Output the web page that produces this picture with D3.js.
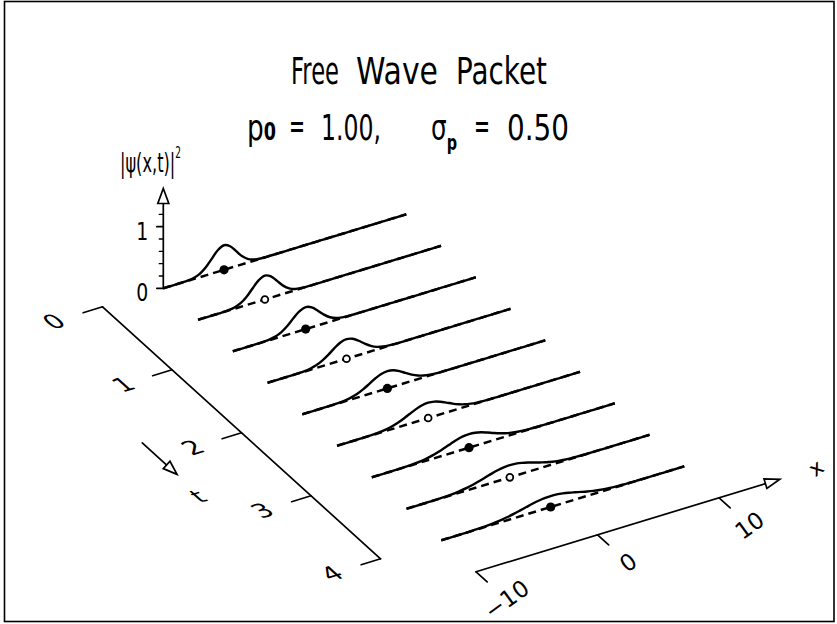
<!DOCTYPE html>
<html>
<head>
<meta charset="utf-8">
<script src="https://cdn.jsdelivr.net/npm/d3@7"></script>
<style>
  body { margin: 0; background: #fff; }
  svg { display: block; }
  text { font-family: "DejaVu Sans", "Liberation Sans", sans-serif; fill: #000; }
</style>
</head>
<body>
<svg id="chart" width="837" height="624"></svg>
<script>
// ---- data -------------------------------------------------------------
const times = [0, 0.5, 1, 1.5, 2, 2.5, 3, 3.5, 4];
// sample positions along x (step 0.5 from -10 to 10)
const xSamples = [-10,-9.5,-9,-8.5,-8,-7.5,-7,-6.5,-6,-5.5,-5,-4.5,-4,-3.5,-3,-2.5,-2,-1.5,-1,-0.5,
                  0,0.5,1,1.5,2,2.5,3,3.5,4,4.5,5,5.5,6,6.5,7,7.5,8,8.5,9,9.5,10];
// |psi(x,t)|^2 at each sample, one array per time slice
const rho_t00 = [0,0,0,0.001,0.004,0.018,0.054,0.130,0.242,0.352,0.399,0.352,0.242,0.130,0.054,0.018,0.004,0.001,
                 0,0,0,0,0,0,0,0,0,0,0,0,0,0,0,0,0,0,0,0,0,0,0];
const rho_t05 = [0,0,0,0,0.001,0.006,0.020,0.059,0.134,0.242,0.344,0.387,0.344,0.242,0.134,0.059,0.020,0.006,0.001,
                 0,0,0,0,0,0,0,0,0,0,0,0,0,0,0,0,0,0,0,0,0,0];
const rho_t10 = [0,0,0,0,0.001,0.003,0.010,0.029,0.072,0.145,0.239,0.323,0.357,0.323,0.239,0.145,0.072,0.029,0.010,0.003,0.001,
                 0,0,0,0,0,0,0,0,0,0,0,0,0,0,0,0,0,0,0,0];
const rho_t15 = [0,0,0,0,0,0.002,0.006,0.018,0.043,0.089,0.155,0.232,0.295,0.319,0.295,0.232,0.155,0.089,0.043,0.018,0.006,0.002,
                 0,0,0,0,0,0,0,0,0,0,0,0,0,0,0,0,0,0,0];
const rho_t20 = [0,0,0,0,0.001,0.002,0.005,0.013,0.030,0.059,0.104,0.161,0.220,0.265,0.282,0.265,0.220,0.161,0.104,0.059,0.030,
                 0.013,0.005,0.002,0.001,0,0,0,0,0,0,0,0,0,0,0,0,0,0,0,0];
const rho_t25 = [0,0,0,0,0.001,0.002,0.005,0.011,0.023,0.043,0.074,0.114,0.161,0.205,0.237,0.249,0.237,0.205,0.161,0.114,0.074,
                 0.043,0.023,0.011,0.005,0.002,0.001,0,0,0,0,0,0,0,0,0,0,0,0,0,0];
const rho_t30 = [0,0,0,0,0.001,0.002,0.005,0.010,0.019,0.034,0.055,0.084,0.119,0.156,0.190,0.213,0.221,0.213,0.190,0.156,0.119,
                 0.084,0.055,0.034,0.019,0.010,0.005,0.002,0.001,0,0,0,0,0,0,0,0,0,0,0,0];
const rho_t35 = [0,0,0,0,0.001,0.002,0.005,0.009,0.016,0.028,0.044,0.065,0.092,0.121,0.150,0.175,0.192,0.198,0.192,0.175,0.150,
                 0.121,0.092,0.065,0.044,0.028,0.016,0.009,0.005,0.002,0.001,0,0,0,0,0,0,0,0,0,0];
const rho_t40 = [0,0,0,0.001,0.001,0.003,0.005,0.009,0.015,0.023,0.036,0.052,0.072,0.095,0.119,0.142,0.161,0.174,0.178,0.174,0.161,
                 0.142,0.119,0.095,0.072,0.052,0.036,0.023,0.015,0.009,0.005,0.003,0.001,0.001,0,0,0,0,0,0,0];
const densities = [rho_t00, rho_t05, rho_t10, rho_t15, rho_t20, rho_t25, rho_t30, rho_t35, rho_t40];
// classical particle position at each time
const classicalX = [-5, -4.5, -4, -3.5, -3, -2.5, -2, -1.5, -1];

const p0 = 1.00, sigmaP = 0.50;
const zMajorTicks = [0, 1];
const zMinorTicks = [0.2, 0.4, 0.6, 0.8, 1.2];
const tTicks = [0, 1, 2, 3, 4];
const xTicks = [-10, 0, 10];

// ---- oblique projection ----------------------------------------------
const svg = d3.select("#chart");
const origin = [163.3, 288.3];                     // screen point of (x=-10, t=0, z=0)
const xAlongX = d3.scaleLinear([-10, 10], [0, 243]);
const xAlongY = d3.scaleLinear([-10, 10], [0, -74]);
const tAlongX = d3.scaleLinear([0, 4], [0, 278]);
const tAlongY = d3.scaleLinear([0, 4], [0, 252]);
const zScale  = d3.scaleLinear([0, 1], [0, -61.6]);
function P(x, t, z = 0) {
  return [origin[0] + xAlongX(x) + tAlongX(t), origin[1] + xAlongY(x) + tAlongY(t) + zScale(z)];
}
function unit(a, b) { const l = Math.hypot(a[0]-b[0], a[1]-b[1]); return [(b[0]-a[0])/l, (b[1]-a[1])/l]; }
const xDir = unit(P(0,0), P(1,0));
const tDir = unit(P(0,0), P(0,1));

const ink = "#000";
const g = svg.append("g");

// frame
g.append("rect").attr("x", 4.5).attr("y", 1.5).attr("width", 829.5).attr("height", 620)
  .attr("fill", "none").attr("stroke", ink).attr("stroke-width", 1.6);

function seg(a, b, w = 1.7) {
  g.append("line").attr("x1", a[0]).attr("y1", a[1]).attr("x2", b[0]).attr("y2", b[1])
    .attr("stroke", ink).attr("stroke-width", w).attr("stroke-linecap", "round");
}
function openHead(tip, dir, len, half) {
  const bx = tip[0] - dir[0]*len, by = tip[1] - dir[1]*len;
  const nx = -dir[1], ny = dir[0];
  g.append("path")
    .attr("d", `M${tip[0]},${tip[1]}L${bx + nx*half},${by + ny*half}L${bx - nx*half},${by - ny*half}Z`)
    .attr("fill", "#fff").attr("stroke", ink).attr("stroke-width", 1.7).attr("stroke-linejoin", "miter");
}
// Text squeezed horizontally to a given advance width (stroke-font proportions).
// parts: [{s: string, size?, weight?, dy?}]
function label(x, y, parts, size, width, anchor = "start") {
  const holder = g.append("g");
  const t = holder.append("text").attr("font-size", size).attr("text-anchor", anchor);
  parts.forEach(p => {
    const sp = t.append("tspan").text(p.s);
    if (p.size) sp.attr("font-size", p.size);
    if (p.weight) sp.attr("font-weight", p.weight);
    if (p.dy) sp.attr("dy", p.dy);
  });
  const natural = t.node().getComputedTextLength() || width;
  holder.attr("transform", `translate(${x},${y}) scale(${width / natural},1)`);
  return holder;
}

// ---- slices -------------------------------------------------------------
const slices = times.map((t, i) => ({ t, i, pts: xSamples.map((x, k) => ({ x, z: densities[i][k] })) }));

// baseline (dashed) underneath each packet
g.selectAll(".base").data(slices).join("line").attr("class", "base")
  .attr("x1", d => P(-10, d.t)[0]).attr("y1", d => P(-10, d.t)[1])
  .attr("x2", d => P(10, d.t)[0]).attr("y2", d => P(10, d.t)[1])
  .attr("stroke", ink).attr("stroke-width", 2.5).attr("stroke-dasharray", "8,5");

// probability density curves
g.selectAll(".curve").data(slices).join("path").attr("class", "curve")
  .attr("d", d => d3.line()
      .x(p => P(p.x, d.t, p.z)[0])
      .y(p => P(p.x, d.t, p.z)[1])
      .curve(d3.curveCatmullRom.alpha(0.5))(d.pts))
  .attr("fill", "none").attr("stroke", ink).attr("stroke-width", 2.4).attr("stroke-linejoin", "round");

// classical particle markers (alternating filled / open)
g.selectAll(".dot").data(slices).join("circle").attr("class", "dot")
  .attr("cx", d => P(classicalX[d.i], d.t)[0])
  .attr("cy", d => P(classicalX[d.i], d.t)[1])
  .attr("r", d => d.i % 2 === 0 ? 4.6 : 3.4)
  .attr("fill", d => d.i % 2 === 0 ? ink : "#fff")
  .attr("stroke", ink).attr("stroke-width", d => d.i % 2 === 0 ? 0 : 1.8);

// ---- z axis ---------------------------------------------------------------
const zTop = 1.62;
seg(P(-10, 0, 0), P(-10, 0, zTop - 0.22));
openHead(P(-10, 0, zTop), [0, -1], 15, 5.5);
zMajorTicks.forEach(z => {
  const p = P(-10, 0, z);
  seg([p[0] - 6.5, p[1]], p);
  label(p[0] - 15, p[1] + 13, [{ s: String(z) }], 25, 12, "end");
});
zMinorTicks.forEach(z => { const p = P(-10, 0, z); seg([p[0] - 4, p[1]], p, 1.4); });

label(120, 172, [{ s: "|\u03C8(x,t)|" }, { s: "2", size: 15, dy: -14 }], 27, 61);

// ---- t axis (lying on the floor at x = -15) ----------------------------
const tAxisX = -15;
seg(P(tAxisX, 0), P(tAxisX, 4));
tTicks.forEach(t => seg(P(tAxisX, t), P(tAxisX - 1.6, t)));
function floorText(x, t, str, size) {
  const p = P(x, t);
  g.append("text")
    .attr("transform", `matrix(${xDir[0]},${xDir[1]},${tDir[0]},${tDir[1]},${p[0]},${p[1]})`)
    .attr("text-anchor", "middle").attr("dominant-baseline", "central")
    .attr("font-size", size).text(str);
}
tTicks.forEach(t => floorText(-19, t, String(t), 25));
// direction arrow and name
seg(P(-21.8, 1.76), P(-21.8, 2.26 - 0.14));
openHead(P(-21.8, 2.26), tDir, 14, 5);
floorText(-22, 2.6, "t", 24);

// ---- x axis (floor at t = 4.5) -------------------------------------------
const xAxisT = 4.5;
seg(P(-10, xAxisT), P(15, xAxisT).map((v, k) => v - xDir[k]*14));
openHead(P(15, xAxisT), xDir, 15, 5);
xTicks.forEach(x => seg(P(x, xAxisT), P(x, xAxisT + 0.16)));
const fmtTick = d => d < 0 ? "\u2212" + Math.abs(d) : String(d);
xTicks.forEach(x => {
  const p = P(x, 4.94);
  g.append("text").attr("transform", `translate(${p[0]},${p[1]}) rotate(-36)`)
    .attr("text-anchor", "middle").attr("dominant-baseline", "central")
    .attr("font-size", 23).text(fmtTick(x));
});
{
  const p = P(18, xAxisT);
  g.append("text").attr("transform", `translate(${p[0]},${p[1]}) rotate(-36)`)
    .attr("text-anchor", "middle").attr("dominant-baseline", "central")
    .attr("font-size", 21).text("x");
}

// ---- titles ---------------------------------------------------------------
label(291, 84, [{ s: "Free" }], 37, 48);
label(356, 84, [{ s: "Wave" }], 37, 82);
label(456, 84, [{ s: "Packet" }], 37, 91);

const fmt2 = d3.format(".2f");
label(247, 140, [{ s: "p" }, { s: "0", size: 24, weight: "bold" }], 36, 29);
label(289, 138, [{ s: "=" }], 36, 16);
label(321, 140, [{ s: fmt2(p0) + "," }], 36, 60);
label(431, 140, [{ s: "\u03C3" }, { s: "p", size: 21, weight: "bold", dy: 10 }], 36, 26);
label(474, 138, [{ s: "=" }], 36, 16);
label(507, 140, [{ s: fmt2(sigmaP) }], 36, 62);
</script>
</body>
</html>
